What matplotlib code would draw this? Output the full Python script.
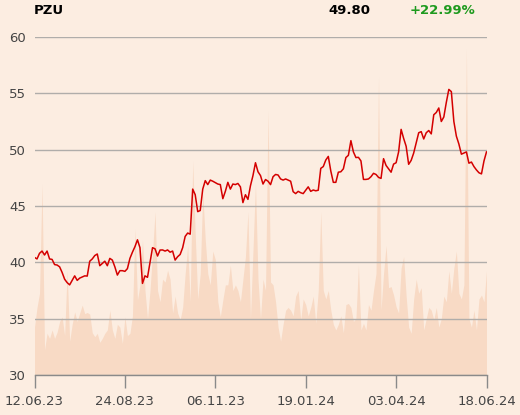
import matplotlib
matplotlib.use("Agg")
import matplotlib.pyplot as plt
import numpy as np

# ---- data -------------------------------------------------------------
ticker = "PZU"
last_price = "49.80"
change_pct = "+22.99%"

tick_labels = ["12.06.23", "24.08.23", "06.11.23", "19.01.24", "03.04.24", "18.06.24"]

price = [
    40.44, 40.3, 40.8, 41.0, 40.65, 41.0, 40.3, 40.26, 39.8, 39.76,
    39.6, 39.1, 38.5, 38.2, 38.0, 38.4, 38.8, 38.4, 38.6, 38.7,
    38.8, 38.78, 40.1, 40.3, 40.6, 40.74, 39.7, 39.9, 40.1, 39.7,
    40.35, 40.2, 39.6, 38.87, 39.26, 39.26, 39.2, 39.44, 40.35, 40.9,
    41.39, 42.0, 41.3, 38.13, 38.8, 38.67, 40.0, 41.3, 41.2, 40.56,
    41.09, 41.1, 41.0, 41.1, 40.9, 41.0, 40.2, 40.5, 40.7, 41.3,
    42.3, 42.6, 42.5, 46.5, 46.0, 44.5, 44.6, 46.5, 47.25, 46.9,
    47.3, 47.2, 47.07, 46.95, 46.9, 45.65, 46.3, 47.1, 46.5, 46.95,
    46.9, 47.0, 46.7, 45.3, 46.0, 45.59, 46.8, 47.7, 48.84, 48.04,
    47.7, 46.95, 47.35, 47.2, 46.9, 47.6, 47.8, 47.75, 47.4, 47.3,
    47.4, 47.3, 47.2, 46.27, 46.1, 46.3, 46.18, 46.1, 46.4, 46.7,
    46.3, 46.42, 46.35, 46.4, 48.34, 48.5, 49.08, 49.4, 48.1, 47.1,
    47.1, 48.0, 48.04, 48.3, 49.3, 49.5, 50.8, 49.8, 49.3, 49.32,
    49.0, 47.36, 47.36, 47.4, 47.6, 47.9, 47.8, 47.54, 47.45, 49.2,
    48.6, 48.3, 48.0, 48.72, 48.84, 49.8, 51.8, 51.0, 50.3, 48.7,
    49.05, 49.7, 50.62, 51.5, 51.6, 50.95, 51.5, 51.7, 51.4, 53.1,
    53.3, 53.7, 52.5, 52.9, 54.2, 55.35, 55.15, 52.5, 51.2, 50.5,
    49.6, 49.7, 49.8, 48.8, 48.9, 48.5, 48.2, 47.95, 47.85, 49.0,
    49.8,
]

volume = [  # thousands of shares
    850, 1200, 1450, 3400, 450, 740, 650, 800, 650, 760,
    950, 1030, 700, 1850, 600, 900, 1120, 950, 1100, 1240,
    1090, 1110, 1080, 750, 680, 740, 580, 650, 740, 800,
    1150, 800, 650, 900, 850, 560, 1030, 700, 740, 1050,
    2600, 1330, 1600, 2400, 1500, 1000, 1500, 2160, 2900, 1500,
    1300, 1700, 1650, 1860, 1700, 1100, 1400, 1100, 980, 1200,
    1800, 2300, 1300, 3800, 2500, 1350, 1800, 3250, 2400, 1800,
    1600, 2200, 2050, 1300, 1036, 1330, 1600, 1600, 1950, 1500,
    1600, 1500, 1300, 1700, 2100, 2900, 1000, 2200, 3400, 1700,
    1000, 1700, 1500, 4700, 1650, 1600, 1300, 850, 600, 900,
    1150, 1200, 1150, 1050, 1400, 1500, 980, 1350, 1250, 1050,
    1200, 1400, 917, 1500, 2900, 1500, 1350, 1500, 1150, 900,
    800, 900, 1050, 750, 1250, 1270, 1200, 950, 1000, 1950,
    800, 917, 800, 1250, 1150, 1500, 1800, 5300, 1150, 1800,
    2300, 1550, 1570, 1420, 1213, 1100, 1900, 2100, 1400, 850,
    740, 1350, 1700, 1450, 1550, 800, 1000, 1200, 1150, 980,
    1200, 850, 1000, 1400, 1300, 1850, 1450, 1900, 2200, 1450,
    1350, 1600, 5800, 1000, 850, 1150, 800, 1350, 1420, 1300,
    1850,
]

# ---- style ------------------------------------------------------------
BG = "#FCEDE1"
VOL = "#F8DAC5"
RED = "#D40000"
GRID = "#B0ADAA"
TXT = "#444444"

W, H = 520, 415
fig = plt.figure(figsize=(W / 100, H / 100), dpi=100)
fig.patch.set_facecolor(BG)

rect = [34.5 / W, 40 / H, 452 / W, 338 / H]
x = np.arange(len(price))
n = len(price) - 1

# volume underlay
axv = fig.add_axes(rect)
axv.set_facecolor(BG)
axv.fill_between(x, 0, volume, color=VOL, lw=0)
axv.set_xlim(0, n)
axv.set_ylim(0, 6000)
axv.axis("off")
axv.patch.set_visible(True)

# price axes on top
ax = fig.add_axes(rect)
ax.patch.set_visible(False)
ax.plot(x, price, color=RED, lw=1.1, zorder=3)
ax.set_xlim(0, n)
ax.set_ylim(30, 60)
ax.set_yticks([30, 35, 40, 45, 50, 55, 60])
ax.yaxis.grid(True, color=GRID, lw=1)
ax.set_axisbelow(True)
for s in ["left", "right", "top"]:
    ax.spines[s].set_visible(False)
ax.spines["bottom"].set_color("#8a8a8a")
ax.spines["bottom"].set_linewidth(1)

tick_pos = np.linspace(0, n, len(tick_labels))
ax.set_xticks(tick_pos)
ax.set_xticklabels(tick_labels)
ax.tick_params(axis="x", length=9.5, width=1, color="#8a8a8a", pad=5,
               labelsize=9.5, labelcolor=TXT)
ax.tick_params(axis="y", length=0, pad=6, labelsize=9.5, labelcolor=TXT)

# header
fig.text(34 / W, 1 - 10 / H, ticker, fontsize=9.5, fontweight="bold",
         color="black", ha="left", va="center")
fig.text(370 / W, 1 - 10 / H, last_price, fontsize=9.5, fontweight="bold",
         color="black", ha="right", va="center")
fig.text(475 / W, 1 - 10 / H, change_pct, fontsize=9.5, fontweight="bold",
         color="#1E9A1E", ha="right", va="center")

fig.savefig("out.png", dpi=100, facecolor=BG)
